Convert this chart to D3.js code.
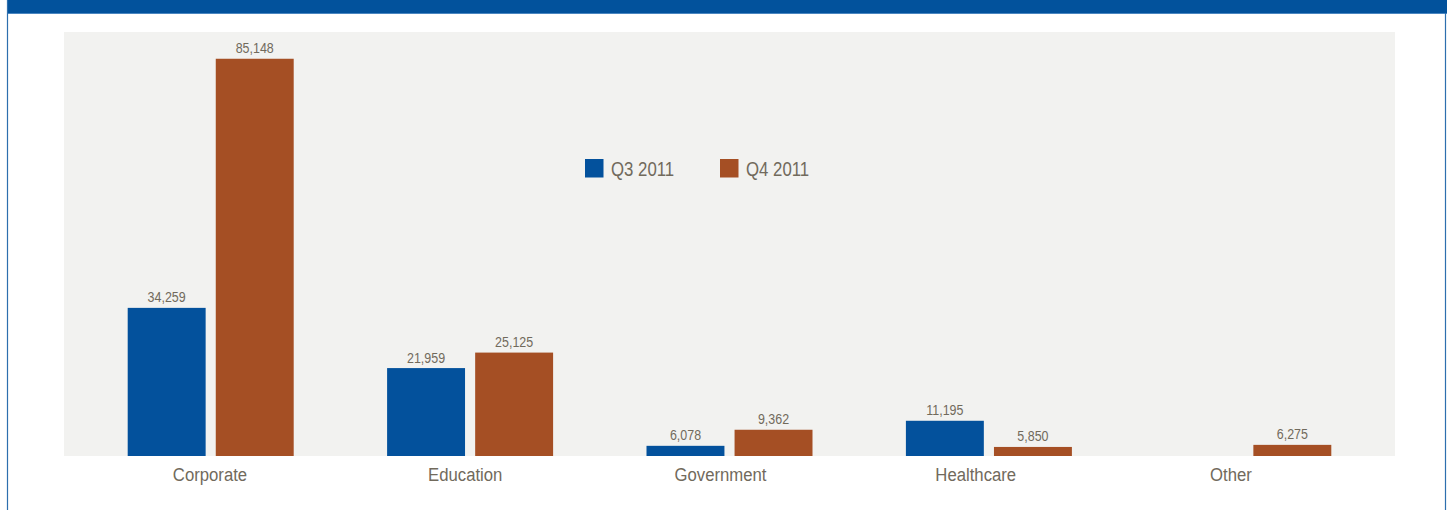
<!DOCTYPE html>
<html>
<head>
<meta charset="utf-8">
<script src="https://cdn.jsdelivr.net/npm/d3@7"></script>
<style>
  html, body { margin: 0; padding: 0; background: #ffffff; }
  svg { display: block; }
  text { font-family: "Liberation Sans", Arial, sans-serif; }
</style>
</head>
<body>
<svg id="chart" width="1447" height="510"></svg>
<script>
// Shipments by vertical market, two quarters
const categories = ["Corporate", "Education", "Government", "Healthcare", "Other"];
const seriesNames = ["Q3 2011", "Q4 2011"];
const q3Values = [34259, 21959, 6078, 11195, null];
const q4Values = [85148, 25125, 9362, 5850, 6275];
const valueAxisDomain = [4000, 90000];

const W = 1447, H = 510;
const colors = { "Q3 2011": "#03519c", "Q4 2011": "#a54f24" };
const textColor = "#716a5c";

const svg = d3.select("#chart");

// header banner and page frame
svg.append("rect").attr("x", 7).attr("y", 0).attr("width", W - 7).attr("height", 13).attr("fill", "#02529c");
svg.append("line").attr("x1", 7).attr("x2", W).attr("y1", 13.5).attr("y2", 13.5)
  .attr("stroke", "#4a86c0").attr("stroke-width", 1);
svg.append("line").attr("x1", 7.5).attr("x2", 7.5).attr("y1", 0).attr("y2", H)
  .attr("stroke", "#2d6fae").attr("stroke-width", 1.2);
svg.append("line").attr("x1", 1445.5).attr("x2", 1445.5).attr("y1", 13).attr("y2", H)
  .attr("stroke", "#2d6fae").attr("stroke-width", 1.2);

// plot background
const plot = { left: 64, right: 1395, top: 32, bottom: 456 };
svg.append("rect").attr("x", plot.left).attr("y", plot.top)
  .attr("width", plot.right - plot.left).attr("height", plot.bottom - plot.top)
  .attr("fill", "#f2f2f0");

const x0 = d3.scaleBand().domain(categories).range([81, 1378]).paddingInner(0).paddingOuter(0);
const x1 = d3.scaleBand().domain(seriesNames).range([-83, 83]).paddingInner(0.115).paddingOuter(0);
const y = d3.scaleLinear().domain(valueAxisDomain).range([456, 35]);
const fmt = d3.format(",");

const rows = categories.map((c, i) => ({ cat: c, vals: [
  { s: seriesNames[0], v: q3Values[i] },
  { s: seriesNames[1], v: q4Values[i] }
].filter(d => d.v != null) }));

const groups = svg.append("g").selectAll("g").data(rows).join("g")
  .attr("transform", d => `translate(${x0(d.cat) + x0.bandwidth() / 2},0)`);

groups.selectAll("rect").data(d => d.vals).join("rect")
  .attr("x", d => x1(d.s))
  .attr("width", x1.bandwidth())
  .attr("y", d => y(d.v))
  .attr("height", d => y(valueAxisDomain[0]) - y(d.v))
  .attr("fill", d => colors[d.s]);

groups.selectAll("text.val").data(d => d.vals).join("text")
  .attr("class", "val")
  .attr("transform", d => `translate(${x1(d.s) + x1.bandwidth() / 2},${y(d.v) - 5.5}) scale(0.86,1)`)
  .attr("text-anchor", "middle")
  .attr("font-size", 14.5)
  .attr("fill", textColor)
  .text(d => fmt(d.v));

// category axis labels
const xLabel = d3.scalePoint().domain(categories).range([210, 1231]);
svg.append("g").selectAll("text").data(categories).join("text")
  .attr("transform", d => `translate(${xLabel(d)},481) scale(0.88,1)`)
  .attr("text-anchor", "middle")
  .attr("font-size", 19)
  .attr("fill", textColor)
  .text(d => d);

// legend
const legendX = d3.scalePoint().domain(seriesNames).range([585, 720]);
const leg = svg.append("g").selectAll("g").data(seriesNames).join("g")
  .attr("transform", d => `translate(${legendX(d)},159)`);
leg.append("rect").attr("width", 18.5).attr("height", 18.5).attr("fill", d => colors[d]);
leg.append("text")
  .attr("transform", "translate(26,16.5) scale(0.8,1)")
  .attr("font-size", 21)
  .attr("fill", textColor)
  .text(d => d);
</script>
</body>
</html>
